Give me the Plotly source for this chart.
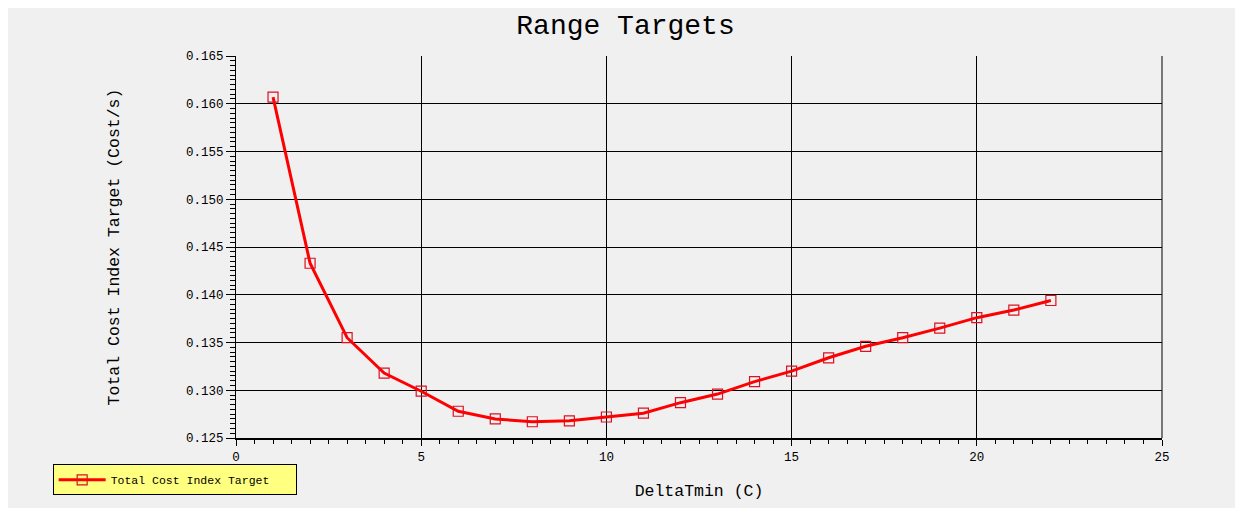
import plotly.graph_objects as go

# DeltaTmin (C) vs total cost index target (Cost/s)
delta_tmin = [1, 2, 3, 4, 5, 6, 7, 8, 9, 10, 11, 12, 13, 14, 15, 16, 17, 18, 19, 20, 21, 22]
cost_target = [0.1607, 0.1433, 0.1355, 0.1318, 0.1299, 0.1278, 0.1270, 0.1267, 0.1268, 0.1272,
               0.1276, 0.1287, 0.1296, 0.1309, 0.1320, 0.1334, 0.1346, 0.1355, 0.1365, 0.1376,
               0.1384, 0.1394]

# trailing non-breaking spaces pad the legend box on the right
series_name = "Total Cost Index Target\u00a0\u00a0\u00a0"
font_family = "Liberation Mono, DejaVu Sans Mono, monospace"
bg = "#f0f0f0"

fig = go.Figure()

fig.add_trace(
    go.Scatter(
        x=delta_tmin,
        y=cost_target,
        mode="lines+markers",
        name=series_name,
        line=dict(color="#ff0000", width=3),
        marker=dict(symbol="square-open", size=10, color="#dc1020", line=dict(width=1.2)),
    )
)

axis_common = dict(
    showline=True,
    linecolor="black",
    ticks="outside",
    tickcolor="black",
    showgrid=True,
    gridcolor="black",
    gridwidth=1,
    zeroline=False,
    tickfont=dict(family=font_family, size=12.5, color="black"),
)

fig.update_xaxes(
    axis_common,
    range=[0, 25],
    dtick=5,
    linewidth=2,
    ticklen=6,
    minor=dict(ticks="outside", dtick=0.5, ticklen=4, tickcolor="black", showgrid=False),
    title=dict(text="DeltaTmin (C)", font=dict(family=font_family, size=16.5, color="black"), standoff=20),
)

fig.update_yaxes(
    axis_common,
    range=[0.125, 0.165],
    dtick=0.005,
    tickformat=".3f",
    linewidth=1,
    ticklen=9,
    minor=dict(ticks="outside", dtick=0.0005, ticklen=5, tickcolor="black", showgrid=False),
    title=dict(text="Total Cost Index Target (Cost/s)",
               font=dict(family=font_family, size=16.5, color="black"), standoff=62),
)

# right edge of the plot frame
fig.add_shape(type="line", xref="x domain", yref="y domain", x0=1, x1=1, y0=0, y1=1,
              line=dict(color="black", width=1))

# page sits 8px in from the window edge, so the figure is 8px smaller each way
fig.update_layout(
    title=dict(text="Range Targets", x=0.5, xanchor="center", y=0.968, yanchor="middle",
               font=dict(family=font_family, size=28, color="black")),
    width=1235,
    height=500,
    margin=dict(l=228, r=81, t=48, b=70, autoexpand=False),
    paper_bgcolor=bg,
    plot_bgcolor=bg,
    showlegend=True,
    legend=dict(
        x=-0.198, y=-0.069, xanchor="left", yanchor="top",
        bgcolor="#ffff80", bordercolor="black", borderwidth=1,
        font=dict(family=font_family, size=11.5, color="black"),
        itemwidth=47,
    ),
)

fig.write_html("out.html")
